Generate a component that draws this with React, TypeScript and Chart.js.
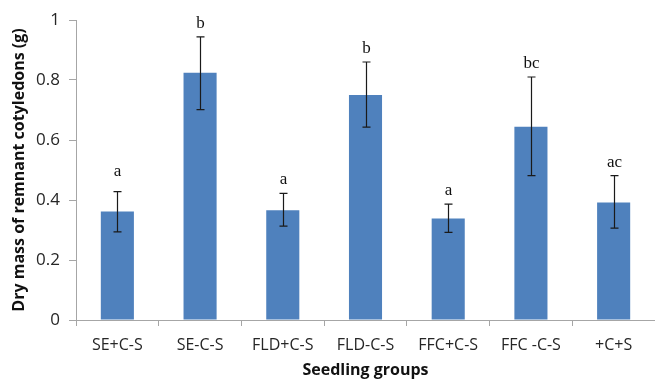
import React, { useEffect, useRef } from "react";
import { Chart, registerables } from "chart.js";

Chart.register(...registerables);

const categories = ["SE+C-S", "SE-C-S", "FLD+C-S", "FLD-C-S", "FFC+C-S", "FFC -C-S", "+C+S"];
const means = [0.362, 0.824, 0.366, 0.75, 0.338, 0.644, 0.392];
const errHigh = [0.428, 0.944, 0.422, 0.86, 0.386, 0.81, 0.481];
const errLow = [0.294, 0.701, 0.313, 0.643, 0.292, 0.481, 0.306];
const letters = ["a", "b", "a", "b", "a", "bc", "ac"];
const yTicks = [0, 0.2, 0.4, 0.6, 0.8, 1];

const errorPlugin = {
  id: "errs",
  afterDatasetsDraw(chart: any) {
    const ctx = chart.ctx;
    const meta = chart.getDatasetMeta(0);
    const y = chart.scales.y;
    ctx.save();
    ctx.strokeStyle = "#1a1a1a";
    ctx.lineWidth = 1.2;
    meta.data.forEach((bar: any, i: number) => {
      const x = Math.round(bar.x) + 0.5;
      const yh = y.getPixelForValue(errHigh[i]);
      const yl = y.getPixelForValue(errLow[i]);
      ctx.beginPath();
      ctx.moveTo(x, yh);
      ctx.lineTo(x, yl);
      ctx.moveTo(x - 4, yh);
      ctx.lineTo(x + 4, yh);
      ctx.moveTo(x - 4, yl);
      ctx.lineTo(x + 4, yl);
      ctx.stroke();
      ctx.fillStyle = "#111";
      ctx.font = "17px 'Liberation Serif', 'DejaVu Serif', serif";
      ctx.textAlign = "center";
      ctx.textBaseline = "alphabetic";
      ctx.fillText(letters[i], x, yh - (i === 0 ? 16 : 9));
    });
    ctx.restore();
  },
};

export default function App() {
  const ref = useRef<HTMLCanvasElement>(null);
  useEffect(() => {
    const chart = new Chart(ref.current!, {
      type: "bar",
      data: {
        labels: categories,
        datasets: [
          {
            data: means,
            backgroundColor: "#4f81bd",
            barPercentage: 0.4,
            categoryPercentage: 1,
          },
        ],
      },
      options: {
        animation: false,
        responsive: false,
        maintainAspectRatio: false,
        layout: { padding: { top: 20, right: 0, left: 0, bottom: 0 } },
        plugins: { legend: { display: false }, tooltip: { enabled: false } },
        scales: {
          x: {
            grid: { display: true, drawOnChartArea: false, drawTicks: true, tickLength: 6, color: "#a6a6a6", offset: true },
            border: { color: "#a6a6a6", width: 1 },
            ticks: { color: "#262626", font: { family: "'Open Sans'", size: 16 }, padding: 10, maxRotation: 0 },
            title: {
              display: true,
              text: "Seedling groups",
              color: "#111",
              font: { family: "'Open Sans'", size: 16, weight: "bold" },
              padding: { top: 2, bottom: 2 },
            },
            afterFit(scale: any) {
              scale.height = 62;
            },
          },
          y: {
            min: 0,
            max: 1,
            afterBuildTicks(scale: any) {
              scale.ticks = yTicks.map((v) => ({ value: v }));
            },
            grid: { display: true, drawOnChartArea: false, drawTicks: true, tickLength: 7, color: "#a6a6a6" },
            border: { color: "#a6a6a6", width: 1 },
            ticks: {
              color: "#262626",
              font: { family: "'Open Sans'", size: 17 },
              padding: 9,
              callback: (v: any) => String(v),
            },
            title: {
              display: true,
              text: "Dry mass of remnant cotyledons (g)",
              color: "#111",
              font: { family: "'Open Sans'", size: 16, weight: "bold" },
              padding: { top: 10, bottom: 0 },
            },
            afterFit(scale: any) {
              scale.width = 76;
            },
          },
        },
      },
      plugins: [errorPlugin],
    });
    return () => chart.destroy();
  }, []);
  return (
    <div style={{ position: "fixed", left: 0, top: 0, width: 655, height: 382, background: "#fff" }}>
      <canvas ref={ref} width={655} height={382} style={{ width: 655, height: 382 }} />
    </div>
  );
}
